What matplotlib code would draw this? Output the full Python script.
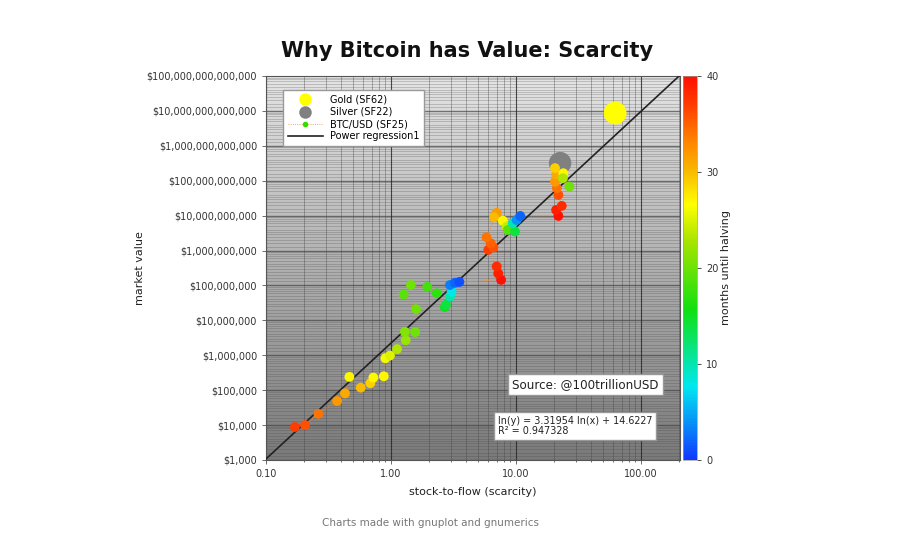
import numpy as np
import matplotlib
matplotlib.use('Agg')
import matplotlib.pyplot as plt
from matplotlib.colors import LinearSegmentedColormap
from matplotlib.lines import Line2D
from matplotlib.ticker import FixedLocator, LogLocator, NullFormatter

# stock-to-flow, market value (USD) e months until halving
btc_sf = [0.170, 0.205, 0.262, 0.370, 0.428, 0.464, 0.572, 0.683, 0.722, 0.875,
          0.90, 0.98, 1.117, 1.31, 1.29, 1.56, 1.585, 1.26, 1.44, 1.95,
          2.32, 2.69, 2.75, 2.96, 3.05, 2.96, 3.25, 3.52,
          7.59, 7.2, 7.0, 6.0, 6.6, 6.28, 5.8, 7.0, 6.66, 7.83,
          8.4, 8.6, 9.8, 9.4, 10.1, 10.8,
          21.8, 20.9, 23.2, 21.8, 21.2, 20.5, 20.9, 20.5, 23.9, 23.7, 26.7]
btc_cap = [8.8e3, 1.0e4, 2.1e4, 4.9e4, 8.1e4, 2.4e5, 1.18e5, 1.58e5, 2.3e5, 2.5e5,
           8.2e5, 9.8e5, 1.5e6, 2.7e6, 4.7e6, 4.6e6, 2.1e7, 5.5e7, 1.03e8, 9.1e7,
           6.0e7, 2.4e7, 2.8e7, 4.8e7, 6.6e7, 1.03e8, 1.2e8, 1.26e8,
           1.45e8, 2.2e8, 3.5e8, 1.05e9, 1.24e9, 1.6e9, 2.4e9, 1.2e10, 9.0e9, 7.2e9,
           4.8e9, 3.9e9, 3.5e9, 6.0e9, 7.5e9, 9.8e9,
           9.8e9, 1.45e10, 1.9e10, 3.9e10, 6.1e10, 9.4e10, 1.5e11, 2.3e11, 1.64e11, 1.18e11, 6.8e10]
btc_months = [37, 36, 34, 32, 31, 27, 30, 29, 27, 27,
              26, 25, 23, 22, 21, 20, 20, 19, 20, 18,
              17, 15, 14, 10, 8, 3, 2, 1,
              40, 39, 38, 37, 36, 35, 34, 32, 30, 27,
              24, 19, 14, 10, 4, 2,
              40, 39, 38, 36, 34, 32, 31, 29, 27, 23, 20]

gold_sf, gold_cap = 62, 8.7e12
silver_sf, silver_cap = 22.5, 3.2e11

# regressao: ln(y) = a ln(x) + b
reg_a, reg_b, reg_r2 = 3.31954, 14.6227, 0.947328

yticks = [10.0**k for k in range(3, 15)]
xticks = [0.1, 1, 10, 100]

cores = LinearSegmentedColormap.from_list('halving', [
    (0.0, '#1038ff'), (0.19, '#00e8f0'), (0.39, '#10e010'), (0.57, '#a8e400'),
    (0.665, '#ffff00'), (0.76, '#f8b400'), (0.83, '#ff8400'), (0.93, '#ff3a00'),
    (1.0, '#ff1000')])

fig = plt.figure(figsize=(9, 5.39), dpi=100)
ax = fig.add_axes([0.2956, 0.1466, 0.46, 0.7124])
cax = fig.add_axes([0.7589, 0.1466, 0.0156, 0.7124])

ax.set_xscale('log')
ax.set_yscale('log')
xlim = (0.1, 205)
ylim = (1e3, 1e14)

# fundo cinza em degrade (estilo gnumeric)
grad = np.linspace(0, 1, 256).reshape(-1, 1)
ax.imshow(grad, extent=[0, 1, 0, 1], transform=ax.transAxes, aspect='auto',
          cmap=LinearSegmentedColormap.from_list('bg', ['#7a7a7a', '#e4e4e4']),
          origin='lower', zorder=0)

# grade: linhas menores bem densas
for k in range(3, 14):
    for s in [1.3, 1.6, 2, 2.5, 3, 3.5, 4, 5, 6, 7, 8, 9]:
        ax.axhline(s * 10.0**k, color='#444444', lw=0.5, alpha=0.35, zorder=1)
    ax.axhline(10.0**k, color='#444444', lw=1.0, alpha=0.7, zorder=1)
for k in range(-1, 3):
    for s in range(2, 10):
        ax.axvline(s * 10.0**k, color='#444444', lw=0.6, alpha=0.45, zorder=1)
    ax.axvline(10.0**k, color='#222222', lw=0.8, alpha=0.8, zorder=1)

# regressao
xr = np.logspace(np.log10(xlim[0]), np.log10(xlim[1]), 50)
ax.plot(xr, np.exp(reg_a * np.log(xr) + reg_b), color='#222222', lw=1.2, zorder=3)

ax.plot(btc_sf, btc_cap, color='#e8883a', lw=0.6, ls=':', zorder=2)
sc = ax.scatter(btc_sf, btc_cap, c=btc_months, cmap=cores, vmin=0, vmax=40,
                s=50, edgecolors='none', zorder=4)
ax.scatter([silver_sf], [silver_cap], s=260, color='#808080', edgecolors='none', zorder=3)
ax.scatter([gold_sf], [gold_cap], s=270, color='#ffff00', edgecolors='none', zorder=3)

ax.set_xlim(xlim)
ax.set_ylim(ylim)

ax.yaxis.set_major_locator(FixedLocator(yticks))
ax.set_yticklabels(['${:,.0f}'.format(v) for v in yticks], fontsize=7, color='#333333')
ax.yaxis.set_minor_formatter(NullFormatter())
ax.xaxis.set_major_locator(FixedLocator(xticks))
ax.set_xticklabels(['{:.2f}'.format(v) for v in xticks], fontsize=7, color='#333333')
ax.xaxis.set_minor_locator(LogLocator(subs=np.arange(2, 10)))
ax.xaxis.set_minor_formatter(NullFormatter())
ax.tick_params(which='both', length=3, width=0.6, color='#555555')
ax.tick_params(which='minor', length=1.5)
for sp in ax.spines.values():
    sp.set_color('#555555')
    sp.set_linewidth(0.8)

ax.set_xlabel('stock-to-flow (scarcity)', fontsize=8, color='#222222', labelpad=6)
ax.set_ylabel('market value', fontsize=8, color='#222222', labelpad=1)
fig.text(0.519, 0.905, 'Why Bitcoin has Value: Scarcity', ha='center', va='center',
         fontsize=15, fontweight='bold', color='#111111')

handles = [
    Line2D([], [], marker='o', ls='none', markersize=9, color='#ffff00', mec='none'),
    Line2D([], [], marker='o', ls='none', markersize=9, color='#808080', mec='none'),
    Line2D([], [], marker='o', ls=':', lw=0.6, markersize=3, color='#e8883a',
           mfc='#33dd00', mec='#33dd00'),
    Line2D([], [], color='#222222', lw=1.2),
]
leg = ax.legend(handles, ['Gold (SF62)', 'Silver (SF22)', 'BTC/USD (SF25)', 'Power regression1'],
                loc='upper left', bbox_to_anchor=(0.03, 0.975), fontsize=7,
                fancybox=False, framealpha=1, edgecolor='#999999',
                handlelength=3.6, labelspacing=0.22, borderpad=0.45)
leg.set_zorder(6)

ax.text(0.772, 0.196, 'Source: @100trillionUSD', transform=ax.transAxes, ha='center',
        va='center', fontsize=8.6, color='#222222', zorder=6,
        bbox=dict(facecolor='white', edgecolor='#999999', boxstyle='square,pad=0.35'))
ax.text(0.56, 0.0885, 'ln(y) = 3.31954 ln(x) + 14.6227\nR\u00b2 = 0.947328',
        transform=ax.transAxes, ha='left', va='center', fontsize=6.9, color='#222222',
        linespacing=1.1, zorder=6,
        bbox=dict(facecolor='white', edgecolor='#999999', boxstyle='square,pad=0.4'))

cb = fig.colorbar(sc, cax=cax)
cb.set_ticks([0, 10, 20, 30, 40])
cb.ax.tick_params(labelsize=7, length=3, width=0.6, colors='#333333')
cb.outline.set_edgecolor('#999999')
cb.outline.set_linewidth(0.5)
cb.set_label('months until halving', fontsize=8, color='#222222', labelpad=2)

fig.text(0.478, 0.03, 'Charts made with gnuplot and gnumerics', ha='center', va='center',
         fontsize=7.5, color='#777777')

fig.savefig('out.png', dpi=100)
